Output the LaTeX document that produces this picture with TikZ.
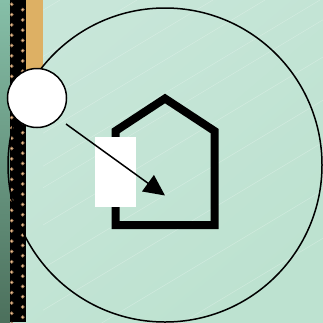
\documentclass[tikz,border=0pt]{standalone}
\usetikzlibrary{arrows.meta,calc}
\definecolor{bgA}{HTML}{C8E6D9}
\definecolor{bgB}{HTML}{BDE2D0}
\definecolor{stripA}{HTML}{86BFA8}
\definecolor{stripB}{HTML}{4C705C}
\definecolor{sand}{HTML}{DDB064}
\definecolor{dotc}{HTML}{F2C79A}
\definecolor{dotrim}{HTML}{94704E}
\tikzset{
  x=1pt,y=-1pt,
  ring/.style={circle,draw=black,line width=1.5pt,inner sep=0pt},
  glint/.style={white,opacity=.28,line width=.5pt},
  stud/.style={fill=dotc,draw=dotrim,line width=.6pt},
  homeline/.style={draw=black,line width=8pt,miter limit=10},
  pointer/.style={draw=black,line width=1.5pt,-{Triangle[length=21pt,width=20pt]}}
}
\begin{document}
\begin{tikzpicture}
\useasboundingbox (0,0) rectangle (323,322);
\shade[top color=bgA,bottom color=bgB,shading angle=40] (0,0) rectangle (323,322);
\begin{scope}
\clip (43,0) rectangle (323,322);
\foreach \c in {60,137,213,265,320,356,418,490,560,640,720}
  \draw[glint] (\c,0) -- ($(\c,0)+(-600,360)$);
\end{scope}
\fill[sand] (26,0) rectangle (43,80);
\shade[top color=stripA,bottom color=stripB] (0,0) rectangle (10,322);
\fill[black] (10,0) rectangle (26,322);
\foreach \n in {0,...,31}{
  \filldraw[stud] (11.7,4.3+10.3*\n) circle[radius=1.6pt];
  \filldraw[stud] (22.7,9.7+10.25*\n) circle[radius=1.6pt];
}
\node[ring,minimum size=314pt] (big) at (165,165) {};
\node[ring,fill=white,minimum size=59pt] (small) at (37,98) {};
\draw[homeline] (115.5,225) -- (115.5,131) -- (165,98.5) -- (214.5,131) -- (214.5,225) -- cycle;
\node[fill=white,minimum width=41pt,minimum height=70pt,inner sep=0pt] (door) at (115.5,171.7) {};
\coordinate (from) at (66,124);
\coordinate (to) at (165,195.5);
\draw[pointer] (from) -- (to);
\end{tikzpicture}
\end{document}
